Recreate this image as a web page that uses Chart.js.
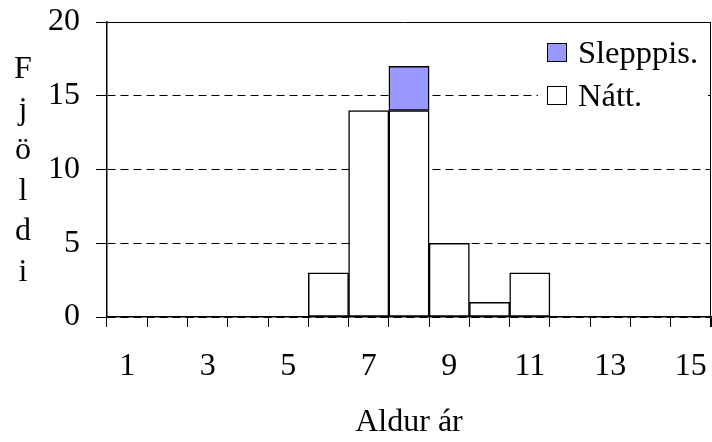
<!DOCTYPE html>
<html>
<head>
<meta charset="utf-8">
<script src="https://cdn.jsdelivr.net/npm/chart.js@4/dist/chart.umd.min.js"></script>
<style>
  html, body { margin: 0; padding: 0; background: #fff; }
  #c { display: block; }
</style>
</head>
<body>
<canvas id="c" width="712" height="442"></canvas>
<script>
const categories = ['1','2','3','4','5','6','7','8','9','10','11','12','13','14','15'];
const nattValues = [0,0,0,0,0,3,14,14,5,1,3,0,0,0,0];
const slepppisValues = [0,0,0,0,0,0,0,3,0,0,0,0,0,0,0];
const yTickMin = 0, yTickMax = 20, yTickStep = 5;
const seriesNames = ['Nátt.', 'Slepppis.'];
const yTitle = 'Fjöldi';
const xTitle = 'Aldur ár';

const FONT = 'Liberation Serif, "Times New Roman", serif';
const BLUE = '#9999FF';

const overlayPlugin = {
  id: 'overlay',
  beforeDatasetsDraw(chart) {
    const ctx = chart.ctx;
    ctx.save();
    ctx.fillStyle = '#fff';
    ctx.fillRect(538, 23, 170, 97);
    ctx.restore();
  },
  afterDraw(chart) {
    const ctx = chart.ctx;
    const a = chart.chartArea;
    ctx.save();
    ctx.strokeStyle = '#000';
    ctx.lineWidth = 1;
    ctx.setLineDash([]);
    const yTop = Math.round(chart.scales.y.getPixelForValue(yTickMax)) + 0.5;
    ctx.beginPath();
    ctx.moveTo(a.left - 11, yTop);
    ctx.lineTo(a.right, yTop);
    ctx.stroke();
    const xr = Math.round(a.right) - 0.5;
    ctx.beginPath();
    ctx.moveTo(xr, yTop);
    ctx.lineTo(xr, a.bottom + 10);
    ctx.stroke();

    // legend
    const entries = [
      {label: seriesNames[1], color: BLUE, y: 43},
      {label: seriesNames[0], color: '#fff', y: 86}
    ];
    ctx.font = '32.5px ' + FONT;
    ctx.textBaseline = 'alphabetic';
    ctx.textAlign = 'left';
    entries.forEach(e => {
      ctx.fillStyle = e.color;
      ctx.fillRect(547, e.y, 20, 19);
      ctx.strokeStyle = '#000';
      ctx.strokeRect(547.5, e.y + 0.5, 19, 18);
      ctx.fillStyle = '#000';
      ctx.fillText(e.label, 578, e.y + 19.5);
    });

    // vertical y-title, one letter per line
    ctx.font = '32px ' + FONT;
    ctx.textAlign = 'center';
    const letters = Array.from(yTitle);
    const base0 = 78, step = 40.6;
    letters.forEach((ch, i) => {
      ctx.fillText(ch, 23, base0 + i * step);
    });
    ctx.restore();
  }
};

new Chart(document.getElementById('c'), {
  type: 'bar',
  data: {
    labels: categories,
    datasets: [
      {
        label: seriesNames[0],
        data: nattValues,
        backgroundColor: '#fff',
        borderColor: '#000',
        borderWidth: 1.5,
        borderSkipped: false,
        barPercentage: 1,
        categoryPercentage: 1
      },
      {
        label: seriesNames[1],
        data: slepppisValues,
        backgroundColor: BLUE,
        borderColor: '#000',
        borderWidth: 1.5,
        borderSkipped: false,
        barPercentage: 1,
        categoryPercentage: 1
      }
    ]
  },
  options: {
    responsive: false,
    animation: false,
    devicePixelRatio: 1,
    layout: { padding: { left: 0, top: 22, right: 1, bottom: 0 } },
    plugins: {
      legend: { display: false },
      tooltip: { enabled: false },
      title: { display: false }
    },
    scales: {
      x: {
        stacked: true,
        offset: true,
        grid: {
          offset: true,
          drawOnChartArea: false,
          drawTicks: true,
          tickLength: 10,
          color: '#000',
          tickColor: '#000',
          lineWidth: 1
        },
        border: { display: true, color: '#000', width: 1.5 },
        ticks: {
          autoSkip: false,
          maxRotation: 0,
          minRotation: 0,
          padding: 20,
          color: '#000',
          font: { family: FONT, size: 32 },
          callback: function(value, index) {
            const lab = categories[index];
            return (parseInt(lab, 10) % 2 === 1) ? lab : '';
          }
        },
        title: {
          display: true,
          text: xTitle,
          color: '#000',
          font: { family: FONT, size: 32 },
          padding: { top: 0, bottom: 0 }
        },
        afterFit(scale) {
          scale.height = 125;
          scale.paddingLeft = 0;
          scale.paddingRight = 0;
        }
      },
      y: {
        stacked: true,
        min: yTickMin,
        max: yTickMax,
        ticks: {
          stepSize: yTickStep,
          padding: 16,
          color: '#000',
          font: { family: FONT, size: 32 }
        },
        grid: {
          color: '#000',
          tickColor: '#000',
          lineWidth: 1,
          tickLength: 11,
          drawTicks: true
        },
        border: {
          display: true,
          color: '#000',
          width: 1.5,
          dash: [8, 5]
        },
        afterFit(scale) {
          scale.width = 107;
          scale.paddingTop = 0;
          scale.paddingBottom = 0;
        }
      }
    }
  },
  plugins: [overlayPlugin]
});
</script>
</body>
</html>
